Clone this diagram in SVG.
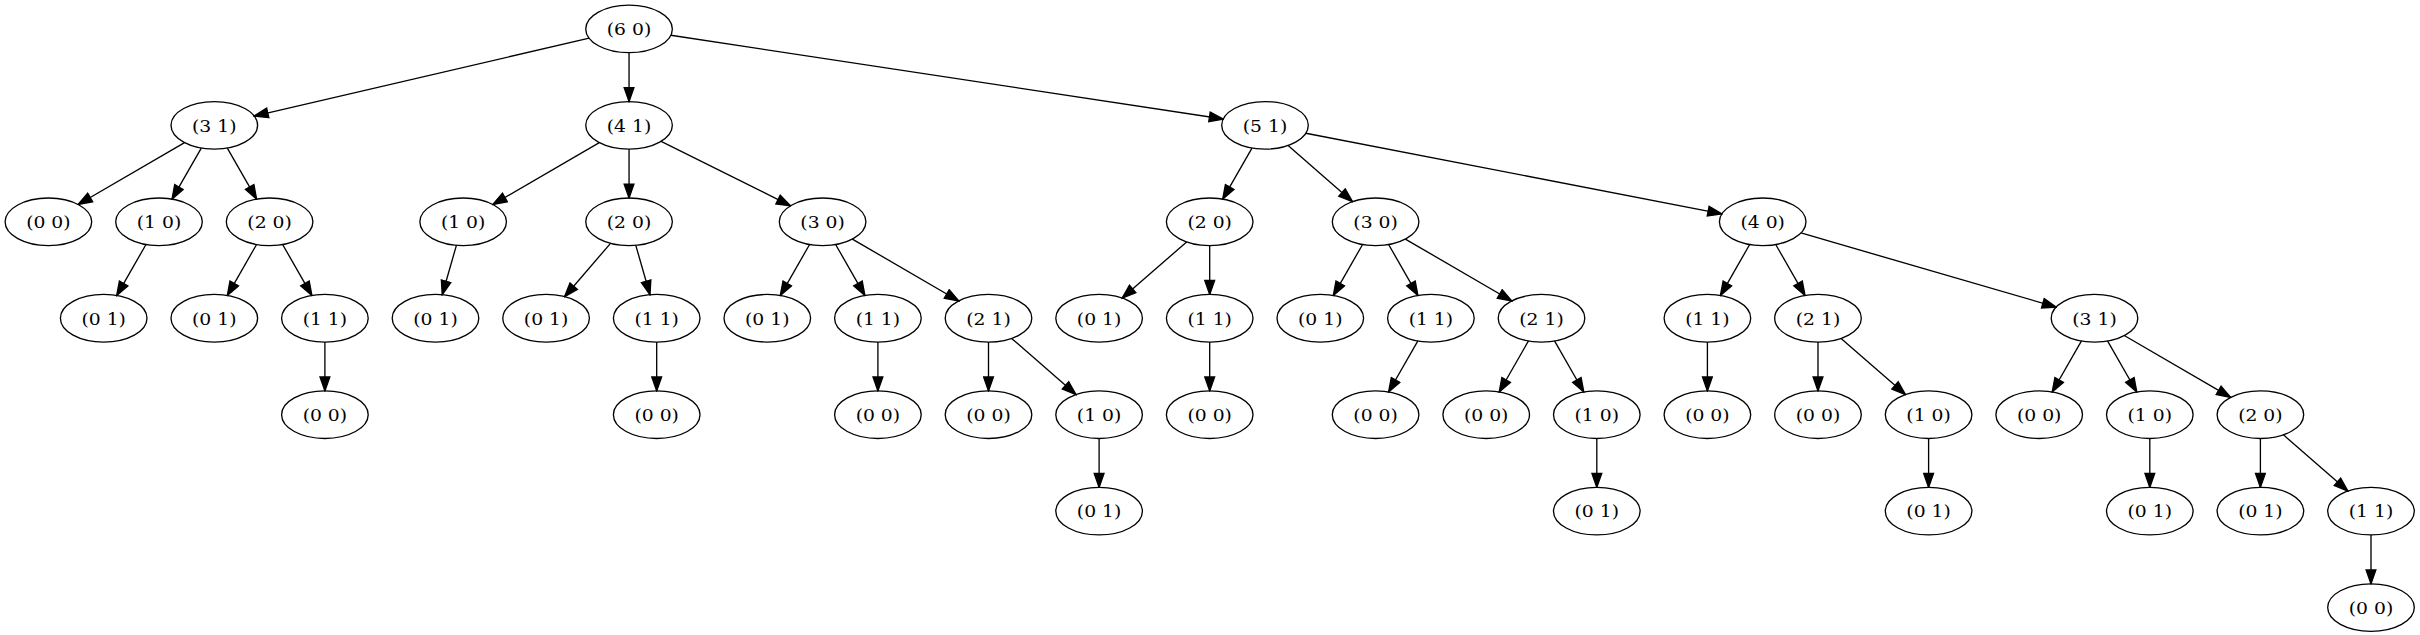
<svg xmlns="http://www.w3.org/2000/svg" width="2420" height="635" viewBox="0 0 2420 635">
<style>
.n ellipse{fill:none;stroke:#000;stroke-width:1.33}
.n text{font-family:"DejaVu Serif","Liberation Serif",serif;font-size:17px;text-anchor:middle;fill:#000}
#edges line{stroke:#000;stroke-width:1.33;marker-end:url(#arr)}
</style>
<defs>
<marker id="arr" markerUnits="userSpaceOnUse" markerWidth="16" markerHeight="12" viewBox="-1 -1 15.33 11.33" refX="13.33" refY="4.67" orient="auto">
<path d="M0,0 L13.33,4.67 L0,9.33 Z" fill="#000" stroke="#000" stroke-width="1.33"/>
</marker>
</defs>
<rect width="2420" height="635" fill="#fff"/>
<g id="edges">
<line x1="589.17" y1="38.17" x2="254.18" y2="116.08"/>
<line x1="629.05" y1="52.7" x2="629.05" y2="101.55"/>
<line x1="670.79" y1="35.23" x2="1223.26" y2="119.02"/>
<line x1="184.55" y1="142.64" x2="78.15" y2="204.51"/>
<line x1="201.29" y1="148.05" x2="172.02" y2="199.10"/>
<line x1="227.32" y1="148.05" x2="256.58" y2="199.10"/>
<line x1="145.98" y1="244.50" x2="116.72" y2="295.55"/>
<line x1="256.58" y1="244.50" x2="227.32" y2="295.55"/>
<line x1="282.62" y1="244.50" x2="311.88" y2="295.55"/>
<line x1="324.9" y1="342.05" x2="324.9" y2="390.9"/>
<line x1="599.30" y1="142.64" x2="492.90" y2="204.51"/>
<line x1="629.05" y1="149.15" x2="629.05" y2="198.0"/>
<line x1="661.13" y1="141.34" x2="790.52" y2="205.81"/>
<line x1="456.41" y1="245.31" x2="442.24" y2="294.74"/>
<line x1="610.54" y1="243.32" x2="564.61" y2="296.73"/>
<line x1="635.79" y1="245.31" x2="649.96" y2="294.74"/>
<line x1="656.7" y1="342.05" x2="656.7" y2="390.9"/>
<line x1="809.58" y1="244.50" x2="780.32" y2="295.55"/>
<line x1="835.62" y1="244.50" x2="864.88" y2="295.55"/>
<line x1="852.35" y1="239.09" x2="958.75" y2="300.96"/>
<line x1="877.9" y1="342.05" x2="877.9" y2="390.9"/>
<line x1="988.5" y1="342.05" x2="988.5" y2="390.9"/>
<line x1="1011.59" y1="338.38" x2="1076.01" y2="394.57"/>
<line x1="1099.1" y1="438.5" x2="1099.1" y2="487.35"/>
<line x1="1251.98" y1="148.05" x2="1222.72" y2="199.10"/>
<line x1="1288.09" y1="145.48" x2="1352.51" y2="201.67"/>
<line x1="1305.84" y1="133.26" x2="1721.86" y2="213.89"/>
<line x1="1186.61" y1="241.93" x2="1122.19" y2="298.12"/>
<line x1="1209.7" y1="245.6" x2="1209.7" y2="294.45"/>
<line x1="1209.7" y1="342.05" x2="1209.7" y2="390.9"/>
<line x1="1362.58" y1="244.50" x2="1333.32" y2="295.55"/>
<line x1="1388.62" y1="244.50" x2="1417.88" y2="295.55"/>
<line x1="1405.35" y1="239.09" x2="1511.75" y2="300.96"/>
<line x1="1417.88" y1="340.95" x2="1388.62" y2="392.0"/>
<line x1="1528.48" y1="340.95" x2="1499.22" y2="392.0"/>
<line x1="1554.52" y1="340.95" x2="1583.78" y2="392.0"/>
<line x1="1596.8" y1="438.5" x2="1596.8" y2="487.35"/>
<line x1="1749.68" y1="244.50" x2="1720.42" y2="295.55"/>
<line x1="1775.72" y1="244.50" x2="1804.98" y2="295.55"/>
<line x1="1800.98" y1="232.93" x2="2056.22" y2="307.12"/>
<line x1="1707.4" y1="342.05" x2="1707.4" y2="390.9"/>
<line x1="1818.0" y1="342.05" x2="1818.0" y2="390.9"/>
<line x1="1841.09" y1="338.38" x2="1905.51" y2="394.57"/>
<line x1="1928.6" y1="438.5" x2="1928.6" y2="487.35"/>
<line x1="2081.48" y1="340.95" x2="2052.22" y2="392.0"/>
<line x1="2107.52" y1="340.95" x2="2136.78" y2="392.0"/>
<line x1="2124.25" y1="335.54" x2="2230.65" y2="397.41"/>
<line x1="2149.8" y1="438.5" x2="2149.8" y2="487.35"/>
<line x1="2260.4" y1="438.5" x2="2260.4" y2="487.35"/>
<line x1="2283.49" y1="434.83" x2="2347.91" y2="491.02"/>
<line x1="2371.0" y1="534.95" x2="2371.0" y2="583.8"/>
</g>
<g id="n0" class="n"><ellipse cx="629.05" cy="28.9" rx="43.3" ry="23.8"/><text x="629.05" y="35.2" textLength="44.5" lengthAdjust="spacingAndGlyphs">(6 0)</text></g>
<g id="n1" class="n"><ellipse cx="214.3" cy="125.35" rx="43.3" ry="23.8"/><text x="214.3" y="131.65" textLength="44.5" lengthAdjust="spacingAndGlyphs">(3 1)</text></g>
<g id="n2" class="n"><ellipse cx="629.05" cy="125.35" rx="43.3" ry="23.8"/><text x="629.05" y="131.65" textLength="44.5" lengthAdjust="spacingAndGlyphs">(4 1)</text></g>
<g id="n3" class="n"><ellipse cx="1265.0" cy="125.35" rx="43.3" ry="23.8"/><text x="1265.0" y="131.65" textLength="44.5" lengthAdjust="spacingAndGlyphs">(5 1)</text></g>
<g id="n4" class="n"><ellipse cx="48.4" cy="221.8" rx="43.3" ry="23.8"/><text x="48.4" y="228.1" textLength="44.5" lengthAdjust="spacingAndGlyphs">(0 0)</text></g>
<g id="n5" class="n"><ellipse cx="159.0" cy="221.8" rx="43.3" ry="23.8"/><text x="159.0" y="228.1" textLength="44.5" lengthAdjust="spacingAndGlyphs">(1 0)</text></g>
<g id="n6" class="n"><ellipse cx="269.6" cy="221.8" rx="43.3" ry="23.8"/><text x="269.6" y="228.1" textLength="44.5" lengthAdjust="spacingAndGlyphs">(2 0)</text></g>
<g id="n7" class="n"><ellipse cx="103.7" cy="318.25" rx="43.3" ry="23.8"/><text x="103.7" y="324.55" textLength="44.5" lengthAdjust="spacingAndGlyphs">(0 1)</text></g>
<g id="n8" class="n"><ellipse cx="214.3" cy="318.25" rx="43.3" ry="23.8"/><text x="214.3" y="324.55" textLength="44.5" lengthAdjust="spacingAndGlyphs">(0 1)</text></g>
<g id="n9" class="n"><ellipse cx="324.9" cy="318.25" rx="43.3" ry="23.8"/><text x="324.9" y="324.55" textLength="44.5" lengthAdjust="spacingAndGlyphs">(1 1)</text></g>
<g id="n10" class="n"><ellipse cx="324.9" cy="414.7" rx="43.3" ry="23.8"/><text x="324.9" y="421.0" textLength="44.5" lengthAdjust="spacingAndGlyphs">(0 0)</text></g>
<g id="n11" class="n"><ellipse cx="463.15" cy="221.8" rx="43.3" ry="23.8"/><text x="463.15" y="228.1" textLength="44.5" lengthAdjust="spacingAndGlyphs">(1 0)</text></g>
<g id="n12" class="n"><ellipse cx="629.05" cy="221.8" rx="43.3" ry="23.8"/><text x="629.05" y="228.1" textLength="44.5" lengthAdjust="spacingAndGlyphs">(2 0)</text></g>
<g id="n13" class="n"><ellipse cx="822.6" cy="221.8" rx="43.3" ry="23.8"/><text x="822.6" y="228.1" textLength="44.5" lengthAdjust="spacingAndGlyphs">(3 0)</text></g>
<g id="n14" class="n"><ellipse cx="435.5" cy="318.25" rx="43.3" ry="23.8"/><text x="435.5" y="324.55" textLength="44.5" lengthAdjust="spacingAndGlyphs">(0 1)</text></g>
<g id="n15" class="n"><ellipse cx="546.1" cy="318.25" rx="43.3" ry="23.8"/><text x="546.1" y="324.55" textLength="44.5" lengthAdjust="spacingAndGlyphs">(0 1)</text></g>
<g id="n16" class="n"><ellipse cx="656.7" cy="318.25" rx="43.3" ry="23.8"/><text x="656.7" y="324.55" textLength="44.5" lengthAdjust="spacingAndGlyphs">(1 1)</text></g>
<g id="n17" class="n"><ellipse cx="656.7" cy="414.7" rx="43.3" ry="23.8"/><text x="656.7" y="421.0" textLength="44.5" lengthAdjust="spacingAndGlyphs">(0 0)</text></g>
<g id="n18" class="n"><ellipse cx="767.3" cy="318.25" rx="43.3" ry="23.8"/><text x="767.3" y="324.55" textLength="44.5" lengthAdjust="spacingAndGlyphs">(0 1)</text></g>
<g id="n19" class="n"><ellipse cx="877.9" cy="318.25" rx="43.3" ry="23.8"/><text x="877.9" y="324.55" textLength="44.5" lengthAdjust="spacingAndGlyphs">(1 1)</text></g>
<g id="n20" class="n"><ellipse cx="988.5" cy="318.25" rx="43.3" ry="23.8"/><text x="988.5" y="324.55" textLength="44.5" lengthAdjust="spacingAndGlyphs">(2 1)</text></g>
<g id="n21" class="n"><ellipse cx="877.9" cy="414.7" rx="43.3" ry="23.8"/><text x="877.9" y="421.0" textLength="44.5" lengthAdjust="spacingAndGlyphs">(0 0)</text></g>
<g id="n22" class="n"><ellipse cx="988.5" cy="414.7" rx="43.3" ry="23.8"/><text x="988.5" y="421.0" textLength="44.5" lengthAdjust="spacingAndGlyphs">(0 0)</text></g>
<g id="n23" class="n"><ellipse cx="1099.1" cy="414.7" rx="43.3" ry="23.8"/><text x="1099.1" y="421.0" textLength="44.5" lengthAdjust="spacingAndGlyphs">(1 0)</text></g>
<g id="n24" class="n"><ellipse cx="1099.1" cy="511.15" rx="43.3" ry="23.8"/><text x="1099.1" y="517.45" textLength="44.5" lengthAdjust="spacingAndGlyphs">(0 1)</text></g>
<g id="n25" class="n"><ellipse cx="1209.7" cy="221.8" rx="43.3" ry="23.8"/><text x="1209.7" y="228.1" textLength="44.5" lengthAdjust="spacingAndGlyphs">(2 0)</text></g>
<g id="n26" class="n"><ellipse cx="1375.6" cy="221.8" rx="43.3" ry="23.8"/><text x="1375.6" y="228.1" textLength="44.5" lengthAdjust="spacingAndGlyphs">(3 0)</text></g>
<g id="n27" class="n"><ellipse cx="1762.7" cy="221.8" rx="43.3" ry="23.8"/><text x="1762.7" y="228.1" textLength="44.5" lengthAdjust="spacingAndGlyphs">(4 0)</text></g>
<g id="n28" class="n"><ellipse cx="1099.1" cy="318.25" rx="43.3" ry="23.8"/><text x="1099.1" y="324.55" textLength="44.5" lengthAdjust="spacingAndGlyphs">(0 1)</text></g>
<g id="n29" class="n"><ellipse cx="1209.7" cy="318.25" rx="43.3" ry="23.8"/><text x="1209.7" y="324.55" textLength="44.5" lengthAdjust="spacingAndGlyphs">(1 1)</text></g>
<g id="n30" class="n"><ellipse cx="1209.7" cy="414.7" rx="43.3" ry="23.8"/><text x="1209.7" y="421.0" textLength="44.5" lengthAdjust="spacingAndGlyphs">(0 0)</text></g>
<g id="n31" class="n"><ellipse cx="1320.3" cy="318.25" rx="43.3" ry="23.8"/><text x="1320.3" y="324.55" textLength="44.5" lengthAdjust="spacingAndGlyphs">(0 1)</text></g>
<g id="n32" class="n"><ellipse cx="1430.9" cy="318.25" rx="43.3" ry="23.8"/><text x="1430.9" y="324.55" textLength="44.5" lengthAdjust="spacingAndGlyphs">(1 1)</text></g>
<g id="n33" class="n"><ellipse cx="1541.5" cy="318.25" rx="43.3" ry="23.8"/><text x="1541.5" y="324.55" textLength="44.5" lengthAdjust="spacingAndGlyphs">(2 1)</text></g>
<g id="n34" class="n"><ellipse cx="1375.6" cy="414.7" rx="43.3" ry="23.8"/><text x="1375.6" y="421.0" textLength="44.5" lengthAdjust="spacingAndGlyphs">(0 0)</text></g>
<g id="n35" class="n"><ellipse cx="1486.2" cy="414.7" rx="43.3" ry="23.8"/><text x="1486.2" y="421.0" textLength="44.5" lengthAdjust="spacingAndGlyphs">(0 0)</text></g>
<g id="n36" class="n"><ellipse cx="1596.8" cy="414.7" rx="43.3" ry="23.8"/><text x="1596.8" y="421.0" textLength="44.5" lengthAdjust="spacingAndGlyphs">(1 0)</text></g>
<g id="n37" class="n"><ellipse cx="1596.8" cy="511.15" rx="43.3" ry="23.8"/><text x="1596.8" y="517.45" textLength="44.5" lengthAdjust="spacingAndGlyphs">(0 1)</text></g>
<g id="n38" class="n"><ellipse cx="1707.4" cy="318.25" rx="43.3" ry="23.8"/><text x="1707.4" y="324.55" textLength="44.5" lengthAdjust="spacingAndGlyphs">(1 1)</text></g>
<g id="n39" class="n"><ellipse cx="1818.0" cy="318.25" rx="43.3" ry="23.8"/><text x="1818.0" y="324.55" textLength="44.5" lengthAdjust="spacingAndGlyphs">(2 1)</text></g>
<g id="n40" class="n"><ellipse cx="2094.5" cy="318.25" rx="43.3" ry="23.8"/><text x="2094.5" y="324.55" textLength="44.5" lengthAdjust="spacingAndGlyphs">(3 1)</text></g>
<g id="n41" class="n"><ellipse cx="1707.4" cy="414.7" rx="43.3" ry="23.8"/><text x="1707.4" y="421.0" textLength="44.5" lengthAdjust="spacingAndGlyphs">(0 0)</text></g>
<g id="n42" class="n"><ellipse cx="1818.0" cy="414.7" rx="43.3" ry="23.8"/><text x="1818.0" y="421.0" textLength="44.5" lengthAdjust="spacingAndGlyphs">(0 0)</text></g>
<g id="n43" class="n"><ellipse cx="1928.6" cy="414.7" rx="43.3" ry="23.8"/><text x="1928.6" y="421.0" textLength="44.5" lengthAdjust="spacingAndGlyphs">(1 0)</text></g>
<g id="n44" class="n"><ellipse cx="1928.6" cy="511.15" rx="43.3" ry="23.8"/><text x="1928.6" y="517.45" textLength="44.5" lengthAdjust="spacingAndGlyphs">(0 1)</text></g>
<g id="n45" class="n"><ellipse cx="2039.2" cy="414.7" rx="43.3" ry="23.8"/><text x="2039.2" y="421.0" textLength="44.5" lengthAdjust="spacingAndGlyphs">(0 0)</text></g>
<g id="n46" class="n"><ellipse cx="2149.8" cy="414.7" rx="43.3" ry="23.8"/><text x="2149.8" y="421.0" textLength="44.5" lengthAdjust="spacingAndGlyphs">(1 0)</text></g>
<g id="n47" class="n"><ellipse cx="2260.4" cy="414.7" rx="43.3" ry="23.8"/><text x="2260.4" y="421.0" textLength="44.5" lengthAdjust="spacingAndGlyphs">(2 0)</text></g>
<g id="n48" class="n"><ellipse cx="2149.8" cy="511.15" rx="43.3" ry="23.8"/><text x="2149.8" y="517.45" textLength="44.5" lengthAdjust="spacingAndGlyphs">(0 1)</text></g>
<g id="n49" class="n"><ellipse cx="2260.4" cy="511.15" rx="43.3" ry="23.8"/><text x="2260.4" y="517.45" textLength="44.5" lengthAdjust="spacingAndGlyphs">(0 1)</text></g>
<g id="n50" class="n"><ellipse cx="2371.0" cy="511.15" rx="43.3" ry="23.8"/><text x="2371.0" y="517.45" textLength="44.5" lengthAdjust="spacingAndGlyphs">(1 1)</text></g>
<g id="n51" class="n"><ellipse cx="2371.0" cy="607.6" rx="43.3" ry="23.8"/><text x="2371.0" y="613.9" textLength="44.5" lengthAdjust="spacingAndGlyphs">(0 0)</text></g>
</svg>
